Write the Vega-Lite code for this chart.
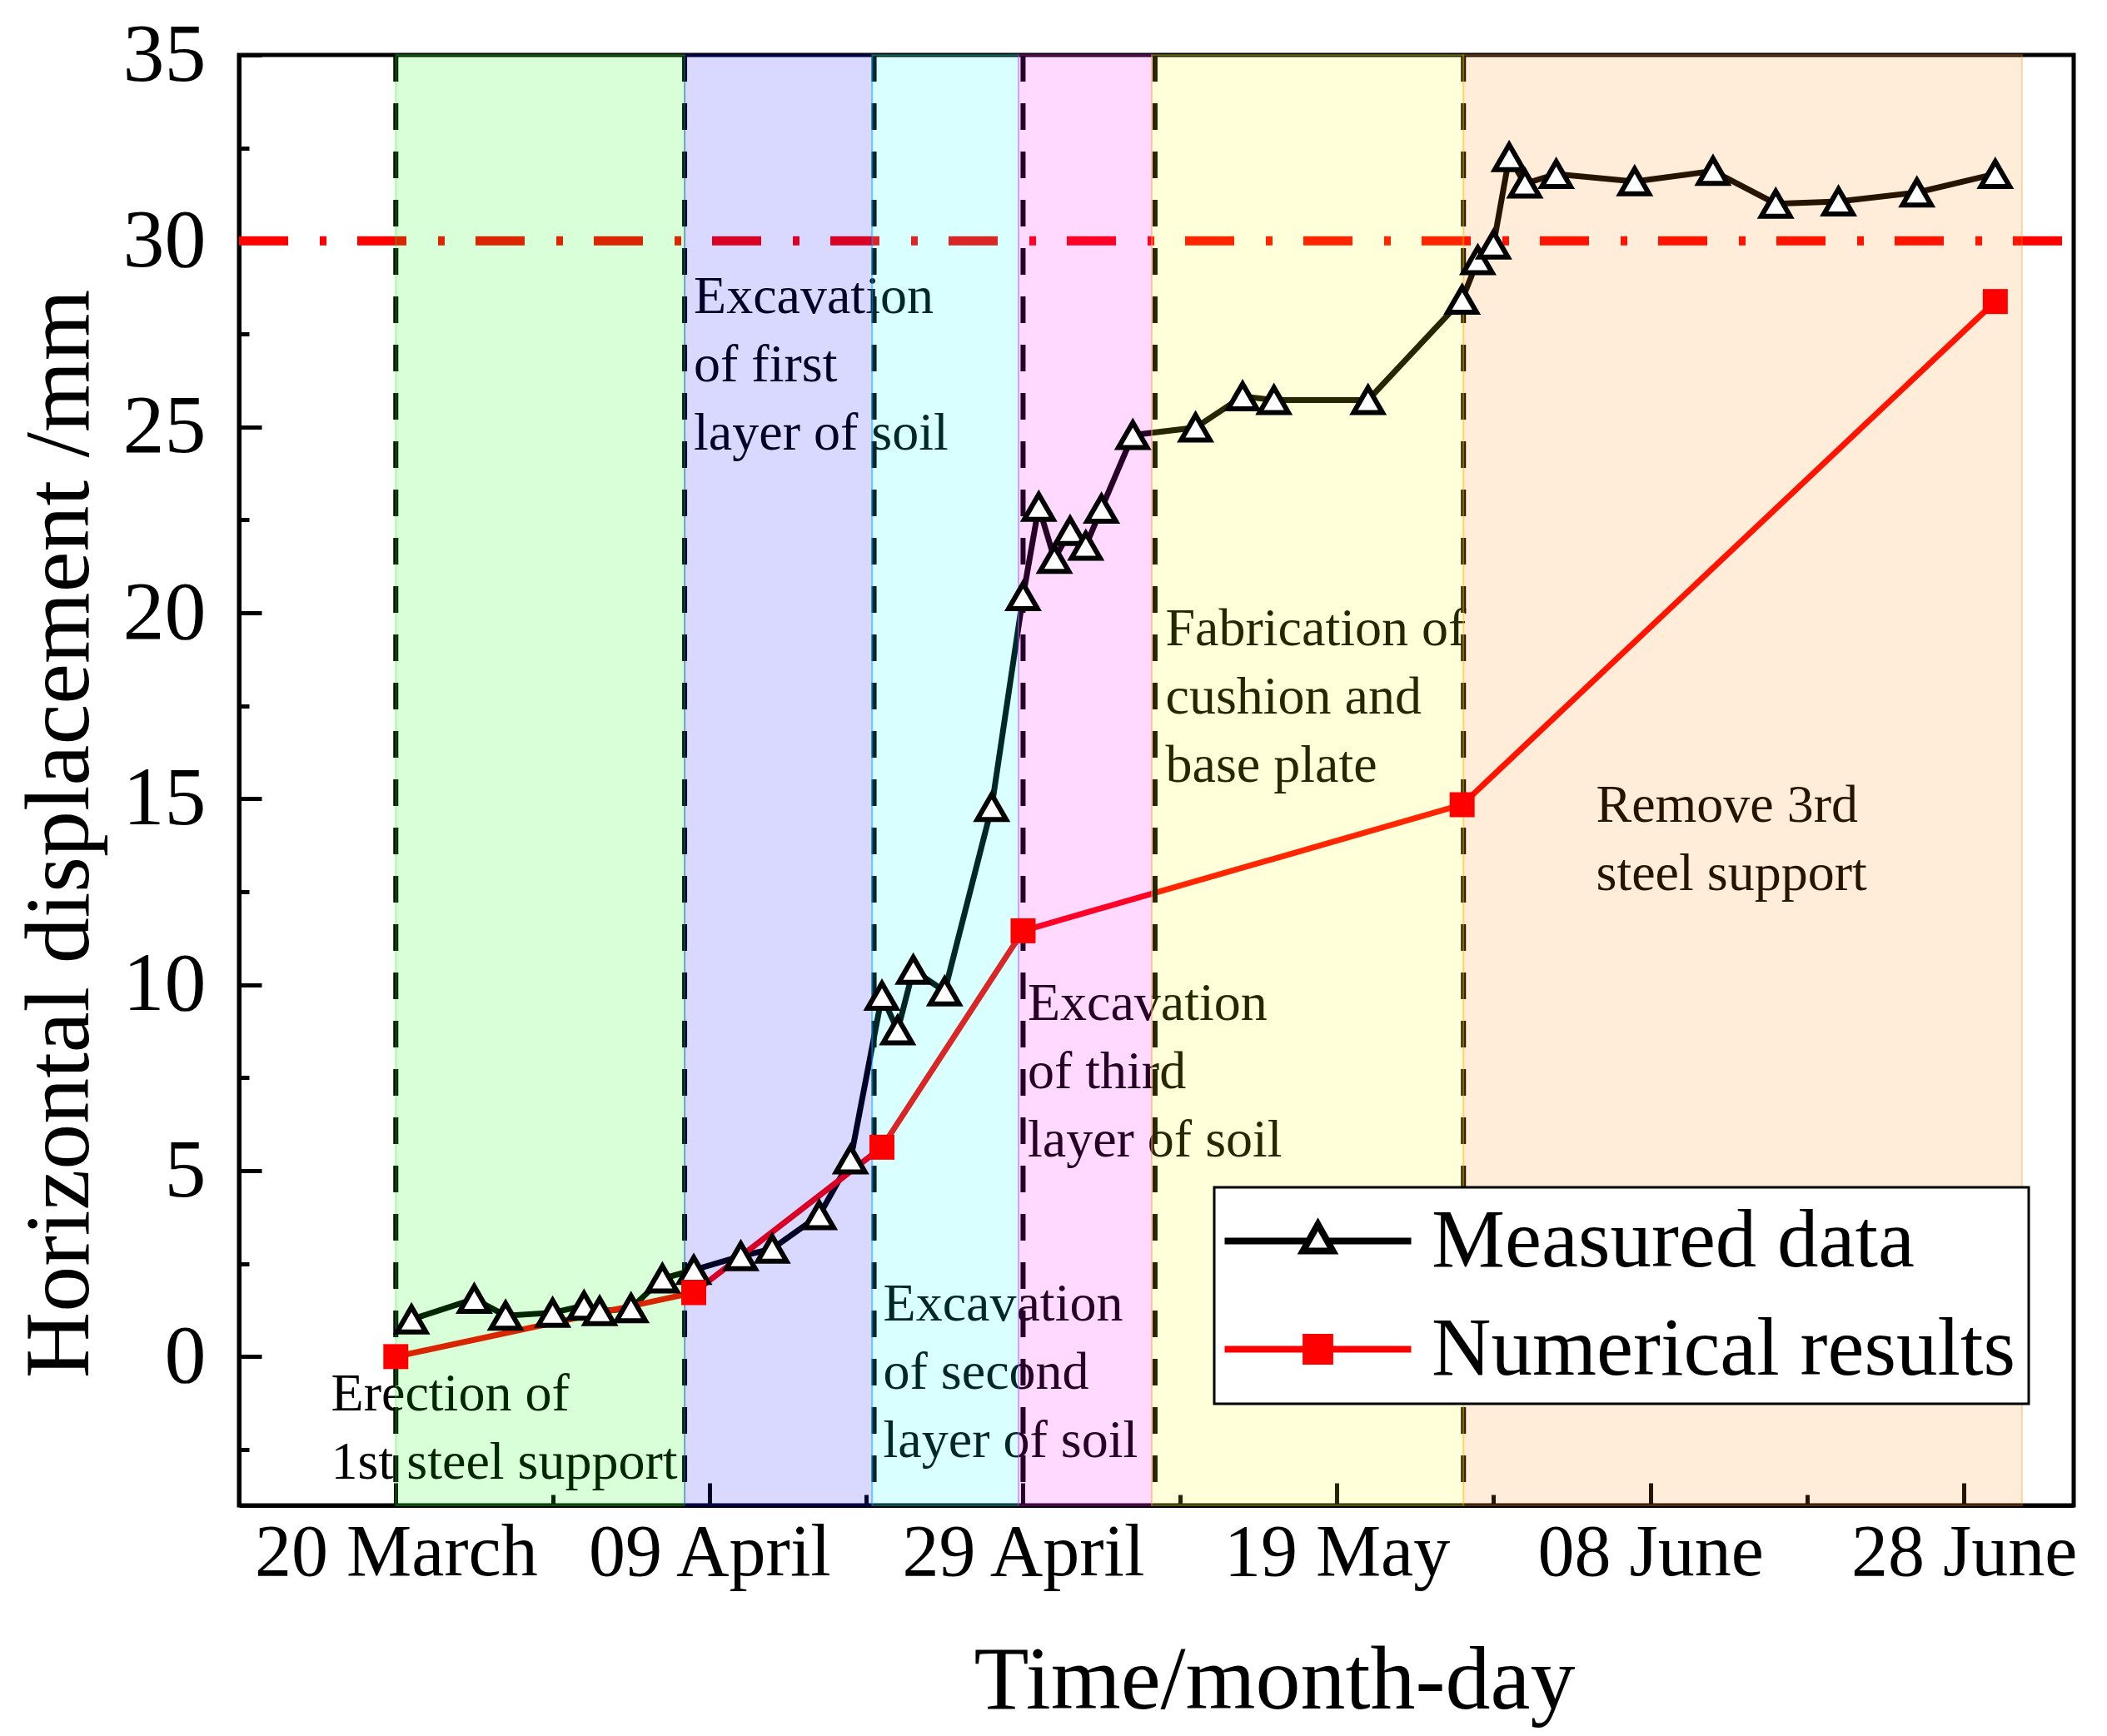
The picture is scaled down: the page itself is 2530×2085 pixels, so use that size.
{
  "$schema": "https://vega.github.io/schema/vega-lite/v6.json",
  "description": "Measured and numerical horizontal displacement over construction stages",
  "width": 2203,
  "height": 1742,
  "autosize": {"type": "none"},
  "padding": {"left": 287, "top": 66, "right": 40, "bottom": 277},
  "config": {
    "font": "Liberation Serif",
    "view": {"stroke": "black", "strokeWidth": 5},
    "legend": {"strokeWidth": 3}
  },
  "resolve": {"axis": {"x": "independent", "y": "independent"}},
  "datasets": {
    "measured": [
      {"date": "2021-03-21T00:00:00", "value": 1.0},
      {"date": "2021-03-25T00:00:00", "value": 1.55},
      {"date": "2021-03-27T00:00:00", "value": 1.1},
      {"date": "2021-03-30T00:00:00", "value": 1.18},
      {"date": "2021-04-01T00:00:00", "value": 1.37},
      {"date": "2021-04-02T00:00:00", "value": 1.22},
      {"date": "2021-04-04T00:00:00", "value": 1.3},
      {"date": "2021-04-06T00:00:00", "value": 2.1},
      {"date": "2021-04-08T00:00:00", "value": 2.33},
      {"date": "2021-04-11T00:00:00", "value": 2.7},
      {"date": "2021-04-13T00:00:00", "value": 2.9},
      {"date": "2021-04-16T00:00:00", "value": 3.8},
      {"date": "2021-04-18T00:00:00", "value": 5.3},
      {"date": "2021-04-20T00:00:00", "value": 9.7},
      {"date": "2021-04-21T00:00:00", "value": 8.77},
      {"date": "2021-04-22T00:00:00", "value": 10.4},
      {"date": "2021-04-24T00:00:00", "value": 9.82},
      {"date": "2021-04-27T00:00:00", "value": 14.78},
      {"date": "2021-04-29T00:00:00", "value": 20.45},
      {"date": "2021-04-30T00:00:00", "value": 22.85},
      {"date": "2021-05-01T00:00:00", "value": 21.45},
      {"date": "2021-05-02T00:00:00", "value": 22.2},
      {"date": "2021-05-03T00:00:00", "value": 21.8},
      {"date": "2021-05-04T00:00:00", "value": 22.8},
      {"date": "2021-05-06T00:00:00", "value": 24.78},
      {"date": "2021-05-10T00:00:00", "value": 24.98},
      {"date": "2021-05-13T00:00:00", "value": 25.82},
      {"date": "2021-05-15T00:00:00", "value": 25.72},
      {"date": "2021-05-21T00:00:00", "value": 25.72},
      {"date": "2021-05-27T00:00:00", "value": 28.42},
      {"date": "2021-05-28T00:00:00", "value": 29.48},
      {"date": "2021-05-29T00:00:00", "value": 29.9},
      {"date": "2021-05-30T00:00:00", "value": 32.25},
      {"date": "2021-05-31T00:00:00", "value": 31.54},
      {"date": "2021-06-02T00:00:00", "value": 31.8},
      {"date": "2021-06-07T00:00:00", "value": 31.6},
      {"date": "2021-06-12T00:00:00", "value": 31.88},
      {"date": "2021-06-16T00:00:00", "value": 31.0},
      {"date": "2021-06-20T00:00:00", "value": 31.06},
      {"date": "2021-06-25T00:00:00", "value": 31.3},
      {"date": "2021-06-30T00:00:00", "value": 31.8}
    ],
    "numerical": [
      {"date": "2021-03-20T00:00:00", "value": 0},
      {"date": "2021-04-08T00:00:00", "value": 1.72},
      {"date": "2021-04-20T00:00:00", "value": 5.63},
      {"date": "2021-04-29T00:00:00", "value": 11.45},
      {"date": "2021-05-27T00:00:00", "value": 14.84},
      {"date": "2021-06-30T00:00:00", "value": 28.37}
    ],
    "stages": [
      {"stage": "Erection", "start": "2021-03-20T00:00:00", "end": "2021-04-07T10:00:00"},
      {"stage": "Excavation 1", "start": "2021-04-07T10:00:00", "end": "2021-04-19T09:00:00"},
      {"stage": "Excavation 2", "start": "2021-04-19T09:00:00", "end": "2021-04-28T17:00:00"},
      {"stage": "Excavation 3", "start": "2021-04-28T17:00:00", "end": "2021-05-07T05:00:00"},
      {"stage": "Fabrication", "start": "2021-05-07T05:00:00", "end": "2021-05-27T02:00:00"},
      {"stage": "Remove", "start": "2021-05-27T02:00:00", "end": "2021-07-01T17:00:00"}
    ],
    "bounds": [
      {"date": "2021-03-20T00:00:00"},
      {"date": "2021-04-07T10:00:00"},
      {"date": "2021-04-19T12:00:00"},
      {"date": "2021-04-29T00:00:00"},
      {"date": "2021-05-07T10:00:00"},
      {"date": "2021-05-27T02:00:00"}
    ],
    "notes": [
      {"date": "2021-03-15T21:00:00", "value": -1.45, "label": "Erection of\n1st steel support"},
      {"date": "2021-04-08T00:00:00", "value": 28.06, "label": "Excavation\nof first\nlayer of soil"},
      {"date": "2021-04-20T02:00:00", "value": 0.96, "label": "Excavation\nof second\nlayer of soil"},
      {"date": "2021-04-29T07:00:00", "value": 9.06, "label": "Excavation\nof third\nlayer of soil"},
      {"date": "2021-05-08T02:00:00", "value": 19.12, "label": "Fabrication of\ncushion and\nbase plate"},
      {"date": "2021-06-04T13:00:00", "value": 14.38, "label": "Remove 3rd\nsteel support"}
    ],
    "series": [
      {"series": "Measured data"},
      {"series": "Numerical results"}
    ]
  },
  "layer": [
    {
      "data": {"name": "measured"},
      "mark": {"type": "line", "stroke": "black", "strokeWidth": 7},
      "encoding": {
        "x": {
          "field": "date",
          "type": "temporal",
          "scale": {"domain": [{"year": 2021, "month": 3, "date": 10}, {"year": 2021, "month": 7, "date": 5}]},
          "axis": {
            "orient": "bottom",
            "title": "Time/month-day",
            "titleFontSize": 108,
            "titleFontWeight": "normal",
            "titleColor": "black",
            "titleX": 1243,
            "titleY": 243,
            "titleAlign": "center",
            "titleBaseline": "alphabetic",
            "values": [
              {"year": 2021, "month": 3, "date": 20},
              {"year": 2021, "month": 4, "date": 9},
              {"year": 2021, "month": 4, "date": 29},
              {"year": 2021, "month": 5, "date": 19},
              {"year": 2021, "month": 6, "date": 8},
              {"year": 2021, "month": 6, "date": 28}
            ],
            "format": "%d %B",
            "labelFontSize": 88,
            "labelColor": "black",
            "labelBaseline": "top",
            "labelPadding": 40,
            "labelLimit": 0,
            "labelFlush": false,
            "labelOverlap": false,
            "tickSize": -27,
            "tickWidth": 5,
            "tickColor": "black",
            "domainColor": "black",
            "domainWidth": 5,
            "grid": false
          }
        },
        "y": {
          "field": "value",
          "type": "quantitative",
          "scale": {"domain": [-4, 35], "nice": false, "zero": false},
          "axis": {
            "orient": "left",
            "title": "Horizontal displacement /mm",
            "titleFontSize": 110,
            "titleFontWeight": "normal",
            "titleColor": "black",
            "titleX": -182,
            "titleY": 935,
            "titleAlign": "center",
            "titleBaseline": "alphabetic",
            "values": [0, 5, 10, 15, 20, 25, 30, 35],
            "labelFontSize": 100,
            "labelColor": "black",
            "labelPadding": 67,
            "labelOverlap": false,
            "labelFlush": false,
            "tickSize": -27,
            "tickWidth": 5,
            "tickColor": "black",
            "domainColor": "black",
            "domainWidth": 5,
            "grid": false
          }
        }
      }
    },
    {
      "data": {"name": "numerical"},
      "mark": {"type": "line", "stroke": "#ff0000", "strokeWidth": 7},
      "encoding": {
        "x": {
          "field": "date",
          "type": "temporal",
          "axis": {
            "orient": "bottom",
            "title": null,
            "labels": false,
            "domain": false,
            "grid": false,
            "values": [
              {"year": 2021, "month": 3, "date": 30},
              {"year": 2021, "month": 4, "date": 19},
              {"year": 2021, "month": 5, "date": 9},
              {"year": 2021, "month": 5, "date": 29},
              {"year": 2021, "month": 6, "date": 18}
            ],
            "tickSize": -13,
            "tickWidth": 5,
            "tickColor": "black"
          }
        },
        "y": {
          "field": "value",
          "type": "quantitative",
          "axis": {
            "orient": "left",
            "title": null,
            "labels": false,
            "domain": false,
            "grid": false,
            "values": [-2.5, 2.5, 7.5, 12.5, 17.5, 22.5, 27.5, 32.5],
            "tickSize": -12,
            "tickWidth": 5,
            "tickColor": "black"
          }
        }
      }
    },
    {
      "data": {"name": "notes"},
      "mark": {"type": "text", "align": "left", "baseline": "alphabetic", "fontSize": 64, "lineHeight": 82, "lineBreak": "\n", "color": "black"},
      "encoding": {
        "x": {"field": "date", "type": "temporal", "axis": null},
        "y": {"field": "value", "type": "quantitative", "axis": null},
        "text": {"field": "label"}
      }
    },
    {
      "data": {"name": "bounds"},
      "mark": {"type": "rule", "color": "black", "strokeWidth": 6, "strokeDash": [32, 26]},
      "encoding": {
        "x": {"field": "date", "type": "temporal", "axis": null}
      }
    },
    {
      "data": {"values": [{}]},
      "mark": {"type": "rule", "color": "#ff0000", "strokeWidth": 11, "strokeDash": [59, 37, 8, 38], "strokeDashOffset": 128},
      "encoding": {
        "y": {"datum": 30, "type": "quantitative", "axis": null}
      }
    },
    {
      "data": {"name": "stages"},
      "mark": {"type": "rect", "fillOpacity": 0.15, "strokeOpacity": 0.3, "strokeWidth": 2},
      "encoding": {
        "x": {"field": "start", "type": "temporal", "axis": null},
        "x2": {"field": "end"},
        "color": {
          "field": "stage",
          "type": "nominal",
          "scale": {
            "domain": ["Erection", "Excavation 1", "Excavation 2", "Excavation 3", "Fabrication", "Remove"],
            "range": ["#00ff00", "#0000ff", "#00ffff", "#ff00ff", "#ffff00", "#ff8700"]
          },
          "legend": null
        },
        "stroke": {
          "field": "stage",
          "type": "nominal",
          "scale": {
            "domain": ["Erection", "Excavation 1", "Excavation 2", "Excavation 3", "Fabrication", "Remove"],
            "range": ["#00ff00", "#0000ff", "#00ffff", "#ff00ff", "#ffff00", "#ff8700"]
          },
          "legend": null
        }
      }
    },
    {
      "data": {"name": "measured"},
      "mark": {"type": "point", "shape": "triangle-up", "size": 1200, "filled": true, "fill": "white", "stroke": "black", "strokeWidth": 6, "opacity": 1},
      "encoding": {
        "x": {"field": "date", "type": "temporal", "axis": null},
        "y": {"field": "value", "type": "quantitative", "axis": null}
      }
    },
    {
      "data": {"name": "numerical"},
      "mark": {"type": "point", "shape": "square", "size": 900, "filled": true, "fill": "#ff0000", "strokeWidth": 0, "opacity": 1},
      "encoding": {
        "x": {"field": "date", "type": "temporal", "axis": null},
        "y": {"field": "value", "type": "quantitative", "axis": null}
      }
    },
    {
      "data": {"name": "series"},
      "transform": [{"filter": "false"}],
      "mark": {"type": "point", "filled": true, "opacity": 1},
      "encoding": {
        "fill": {
          "field": "series",
          "type": "nominal",
          "scale": {"domain": ["Measured data", "Numerical results"], "range": ["white", "#ff0000"]},
          "legend": null
        },
        "shape": {
          "field": "series",
          "type": "nominal",
          "scale": {
            "domain": ["Measured data", "Numerical results"],
            "range": ["M-5.6,0H-0.55M0.55,0H5.6M0,-1L0.9,0.6H-0.9Z", "M-5.6,0H5.6M-0.72,-0.72H0.72V0.72H-0.72Z"]
          },
          "legend": {
            "title": null,
            "orient": "none",
            "legendX": 1171,
            "legendY": 1360,
            "direction": "vertical",
            "padding": 15,
            "rowPadding": 30,
            "fillColor": "white",
            "strokeColor": "black",
            "symbolSize": 1600,
            "symbolStrokeWidth": 8,
            "symbolOffset": 60,
            "labelOffset": 87,
            "labelFontSize": 99,
            "labelColor": "black",
            "labelLimit": 0,
            "symbolStrokeColor": {"expr": "datum.value === 'Measured data' ? 'black' : '#ff0000'"},
            "symbolFillColor": {"expr": "datum.value === 'Measured data' ? 'white' : '#ff0000'"}
          }
        }
      }
    }
  ]
}
